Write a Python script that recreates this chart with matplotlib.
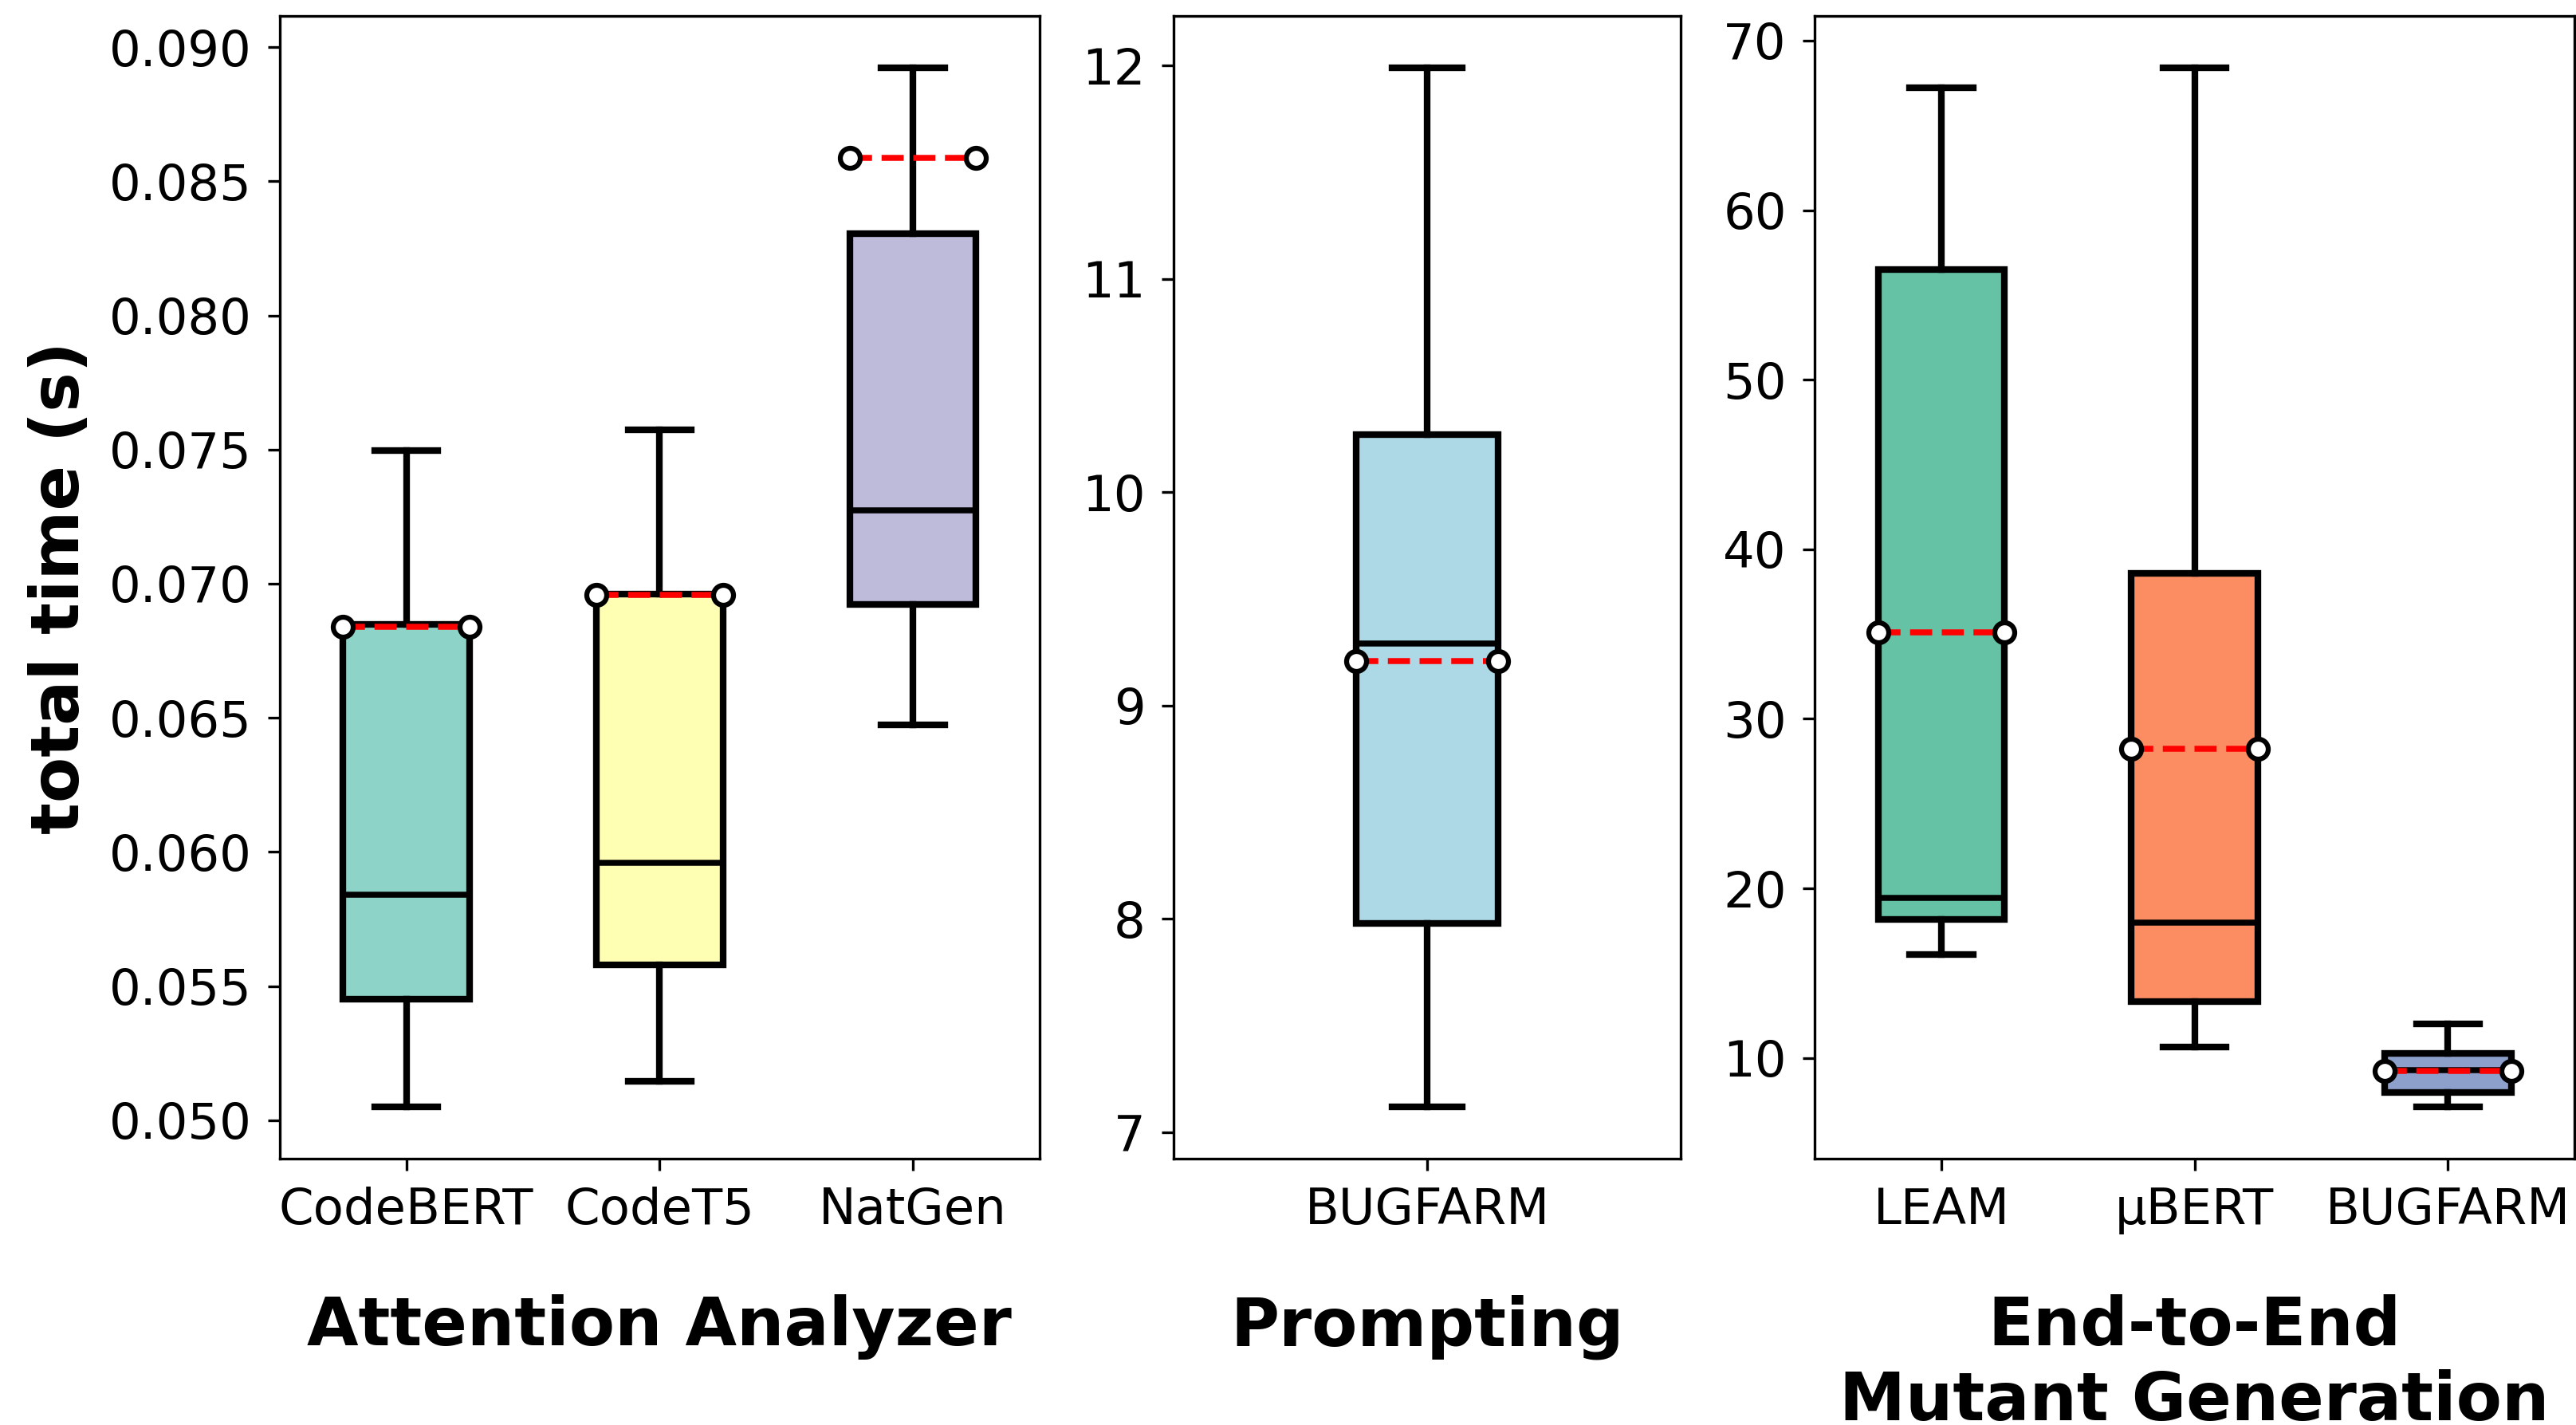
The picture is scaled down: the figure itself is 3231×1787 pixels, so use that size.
import matplotlib.pyplot as plt
import numpy as np

# Attention Analyzer panel
aa_labels = ['CodeBERT', 'CodeT5', 'NatGen']
aa_whislo = [0.0505, 0.05146, 0.06475]
aa_q1 = [0.0545, 0.05578, 0.06923]
aa_med = [0.05841, 0.0596, 0.07273]
aa_q3 = [0.06847, 0.0696, 0.08305]
aa_whishi = [0.07496, 0.07575, 0.08923]
aa_mean = [0.06838, 0.06958, 0.08587]

# Prompting panel
pr_labels = ['BUGFARM']
pr_whislo = [7.12]
pr_q1 = [7.98]
pr_med = [9.29]
pr_q3 = [10.27]
pr_whishi = [11.99]
pr_mean = [9.21]

# End-to-end mutant generation panel
e2e_labels = ['LEAM', 'μBERT', 'BUGFARM']
e2e_whislo = [16.09, 10.62, 7.12]
e2e_q1 = [18.18, 13.30, 7.98]
e2e_med = [19.46, 17.97, 9.29]
e2e_q3 = [56.5, 38.6, 10.27]
e2e_whishi = [67.2, 68.39, 11.99]
e2e_mean = [35.1, 28.25, 9.21]

aa_colors = ['#8dd3c7', '#ffffb3', '#bebada']
pr_colors = ['#add8e6']
e2e_colors = ['#66c2a5', '#fc8d62', '#8da0cb']


def make_stats(labels, whislo, q1, med, q3, whishi, mean):
    stats = []
    for i in range(len(labels)):
        stats.append(dict(label=labels[i], whislo=whislo[i], q1=q1[i], med=med[i],
                          q3=q3[i], whishi=whishi[i], mean=mean[i], fliers=[]))
    return stats


def draw_panel(ax, stats, colors, width, xlabel):
    positions = np.arange(1, len(stats) + 1)
    bp = ax.bxp(stats, positions=positions, widths=width, patch_artist=True,
                showfliers=False, showmeans=False,
                boxprops=dict(linewidth=2, edgecolor='black'),
                whiskerprops=dict(linewidth=2, color='black'),
                capprops=dict(linewidth=2, color='black'),
                medianprops=dict(linewidth=1.8, color='black'))
    for patch, c in zip(bp['boxes'], colors):
        patch.set_facecolor(c)
    for pos, s in zip(positions, stats):
        ax.plot([pos - width / 2, pos + width / 2], [s['mean'], s['mean']],
                linestyle='--', color='red', linewidth=1.8, marker='o',
                markersize=6, markerfacecolor='white', markeredgecolor='black',
                markeredgewidth=1.5, zorder=5)
    ax.tick_params(labelsize=15, pad=5)
    ax.set_xlabel(xlabel, fontsize=20, fontweight='bold', labelpad=18)


fig = plt.figure(figsize=(3231 / 300, 1787 / 300), dpi=300)
gs = fig.add_gridspec(1, 3, width_ratios=[3, 2, 3], left=0.1086, right=0.9994,
                      bottom=0.1869, top=0.9888, wspace=0.199)
ax1 = fig.add_subplot(gs[0])
ax2 = fig.add_subplot(gs[1])
ax3 = fig.add_subplot(gs[2])

draw_panel(ax1, make_stats(aa_labels, aa_whislo, aa_q1, aa_med, aa_q3, aa_whishi, aa_mean),
           aa_colors, 0.5, 'Attention Analyzer')
draw_panel(ax2, make_stats(pr_labels, pr_whislo, pr_q1, pr_med, pr_q3, pr_whishi, pr_mean),
           pr_colors, 0.28, 'Prompting')
draw_panel(ax3, make_stats(e2e_labels, e2e_whislo, e2e_q1, e2e_med, e2e_q3, e2e_whishi, e2e_mean),
           e2e_colors, 0.5, 'End-to-End\nMutant Generation')

ax1.set_ylabel('total time (s)', fontsize=20, fontweight='bold', labelpad=5)

fig.savefig('out.png', dpi=300)
